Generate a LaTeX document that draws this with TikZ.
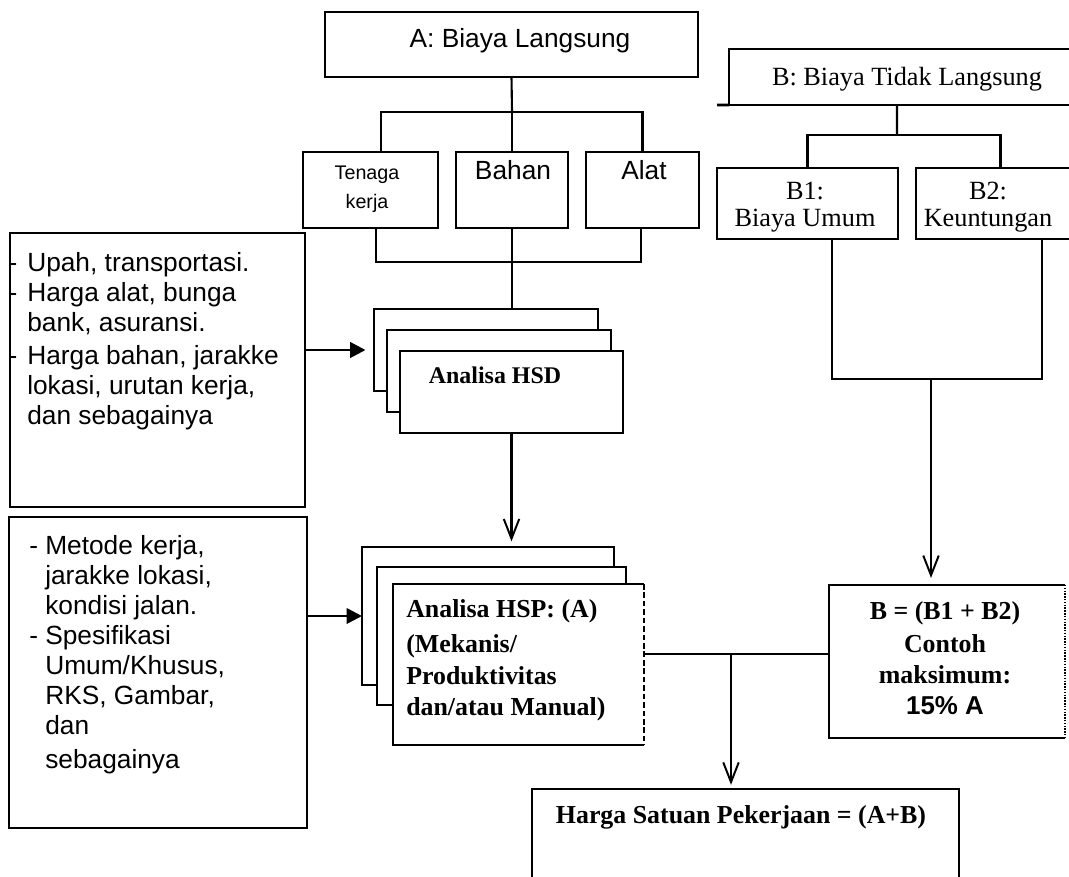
\documentclass[tikz,border=0pt]{standalone}
\usepackage{fontspec}
\setmainfont{Liberation Serif}
\newfontfamily\arialf{Liberation Sans}
\usetikzlibrary{arrows.meta}

\begin{document}
\begin{tikzpicture}[x=0.025cm, y=-0.025cm,
    box/.style={draw=black, line width=1.9pt, inner sep=0pt, outer sep=0pt, fill=white},
    layer/.style={draw=black, line width=1.5pt, inner sep=0pt, outer sep=0pt, fill=white},
    edge/.style={line width=1.9pt},
    txt/.style={inner sep=0pt, font=\arialf\fontsize{18.7}{21.3}\selectfont},
    rtxt/.style={inner sep=0pt, font=\fontsize{18.7}{19.2}\selectfont},
    btxt/.style={inner sep=0pt, font=\bfseries\fontsize{18.4}{21.3}\selectfont},
    conn/.style={line width=1.5pt},
    thinconn/.style={line width=1.1pt},
    varr/.style={line width=1.5pt, -{Straight Barb[length=14pt, width=11pt, line width=1.4pt]}},
    farr/.style={line width=2pt, -{Triangle[length=11pt, width=11pt]}}]

  \useasboundingbox (0,0) rectangle (1069,876);

  % biaya langsung
  \node[box, minimum width=9.325cm, minimum height=1.625cm](biayaA) at (511.5, 44.5){};
  \node[box, minimum width=3.375cm, minimum height=1.9cm](tenaga) at (370.5,190){};
  \node[box, minimum width=2.8cm, minimum height=1.9cm](bahan) at (512,190){};
  \node[box, minimum width=2.825cm, minimum height=1.9cm](alat) at (642.5,190){};

  % biaya tidak langsung
  \node[box, minimum width=9.025cm, minimum height=1.4cm](biayaB) at (909.5,77){};
  \coordinate (bstub) at (717,105);
  \draw[edge] (bstub) -- (biayaB.south west);
  \node[box, minimum width=4.525cm, minimum height=1.775cm](b1) at (807.5,203.5){};
  \node[box, minimum width=4.225cm, minimum height=1.775cm](b2) at (1000.5,203.5){};

  % masukan
  \node[box, line width=1.6pt, minimum width=7.375cm, minimum height=6.85cm](masuk1) at (157.5,370){};
  \node[box, line width=1.6pt, minimum width=7.45cm, minimum height=7.775cm](masuk2) at (158,672.5){};

  % analisa HSD
  \node[layer, minimum width=5.6cm, minimum height=2.05cm](hsdC) at (486,350){};
  \node[layer, minimum width=5.6cm, minimum height=2.05cm](hsdB) at (499,371){};
  \node[layer, minimum width=5.575cm, minimum height=2.05cm](hsdA) at (511.5,392){};

  % analisa HSP
  \node[layer, minimum width=6.3cm, minimum height=3.45cm](hspC) at (488,616){};
  \node[layer, minimum width=6.225cm, minimum height=3.45cm](hspB) at (501.5,636){};
  \node[layer, draw=none, minimum width=6.275cm, minimum height=4.025cm](hspA) at (518.5,664.5){};
  \draw[line width=1.5pt] (hspA.north east) -- (hspA.north west) -- (hspA.south west) -- (hspA.south east);
  \draw[line width=1.4pt, dash pattern=on 4pt off 2pt] (hspA.north east) -- (hspA.south east);

  % B dan harga satuan
  \node[box, draw=none, minimum width=5.9cm, minimum height=3.825cm](bsum) at (947,661.5){};
  \draw[edge] (bsum.north east) -- (bsum.north west) -- (bsum.south west) -- (bsum.south east);
  \draw[line width=1.4pt, dash pattern=on 1pt off 1pt] (bsum.north east) -- (bsum.south east);
  \node[box, minimum width=10.675cm, minimum height=2.8cm](harga) at (745.5,845){};

  % teks
  \node[txt, anchor=base](tA) at (520,47){A: Biaya Langsung};
  \node[txt, anchor=north, align=center, font=\arialf\fontsize{14}{20.6}\selectfont](tTenaga) at (367,166){Tenaga\\kerja};
  \node[txt, anchor=base](tBahan) at (513,179){Bahan};
  \node[txt, anchor=base](tAlat) at (644,179){Alat};
  \node[rtxt, anchor=base](tB) at (907,85){B: Biaya Tidak Langsung};
  \node[rtxt, anchor=north, align=center](tB1) at (805,182){B1:\\Biaya Umum};
  \node[rtxt, anchor=north, align=center](tB2) at (988,182){B2:\\Keuntungan};
  \node[txt, anchor=north west, align=left](tMasuk1) at (27,252){\llap{-\hspace{7pt}}Upah, transportasi.\\\llap{-\hspace{7pt}}Harga alat, bunga\\bank, asuransi.\\[2.5pt]\llap{-\hspace{7pt}}Harga bahan, jarakke\\lokasi, urutan kerja,\\dan sebagainya};
  \node[txt, anchor=north west, align=left](tMasuk2) at (45,535){\llap{-\hspace{5pt}}Metode kerja,\\jarakke lokasi,\\kondisi jalan.\\\llap{-\hspace{5pt}}Spesifikasi\\Umum/Khusus,\\RKS, Gambar,\\dan\\[3pt]sebagainya};
  \node[btxt, anchor=base, font=\bfseries\fontsize{17}{20}\selectfont](tHSD) at (495,383){Analisa HSD};
  \node[btxt, anchor=north west, align=left](tHSP) at (406,599){Analisa HSP: (A)\\[4pt](Mekanis/\\[1pt]Produktivitas\\[1pt]dan/atau Manual)};
  \node[btxt, anchor=north, align=center](tBsum) at (945,601){B = (B1 + B2)\\[2pt]Contoh\\[1pt]maksimum:\\[1pt]{\arialf 15\% A}};
  \node[btxt, anchor=base](tHarga) at (741,823){Harga Satuan Pekerjaan = (A+B)};

  % penghubung
  \coordinate (jA) at (512,112);
  \draw[conn] (biayaA.south) -- (jA);
  \draw[conn] ([xshift=0.26cm]tenaga.north) |- (jA) -| (alat.north);
  \draw[conn] (jA) -- (bahan.north);
  \coordinate (jH) at (512,262);
  \draw[thinconn] ([xshift=0.1375cm]tenaga.south) |- (jH) -| ([xshift=-0.04cm]alat.south);
  \draw[thinconn] (bahan.south) -- (bahan.south |- hsdC.north);
  \draw[varr, shorten >=4pt] (hsdA.south) -- (hsdA.south |- hspC.north);
  \draw[farr, shorten >=6pt] (masuk1.east |- hsdC.west) -- (hsdC.west);
  \draw[farr] (masuk2.east |- hspC.west) -- (hspC.west);

  \coordinate (jB) at (897,135);
  \draw[conn] ([xshift=-0.3125cm]biayaB.south) -- (jB);
  \draw[conn] (b1.north) |- (jB) -| (b2.north);
  \coordinate (jB2) at (931,379);
  \draw[thinconn] ([xshift=0.6125cm]b1.south) |- (jB2) -| ([xshift=1.0375cm]b2.south);
  \draw[varr, shorten >=5pt] (jB2) -- (jB2 |- bsum.north);

  \coordinate (jC) at (731,654);
  \draw[conn] (hspA.east |- jC) -- (bsum.west |- jC);
  \draw[varr, shorten >=3pt] (jC) -- (jC |- harga.north);
\end{tikzpicture}
\end{document}
